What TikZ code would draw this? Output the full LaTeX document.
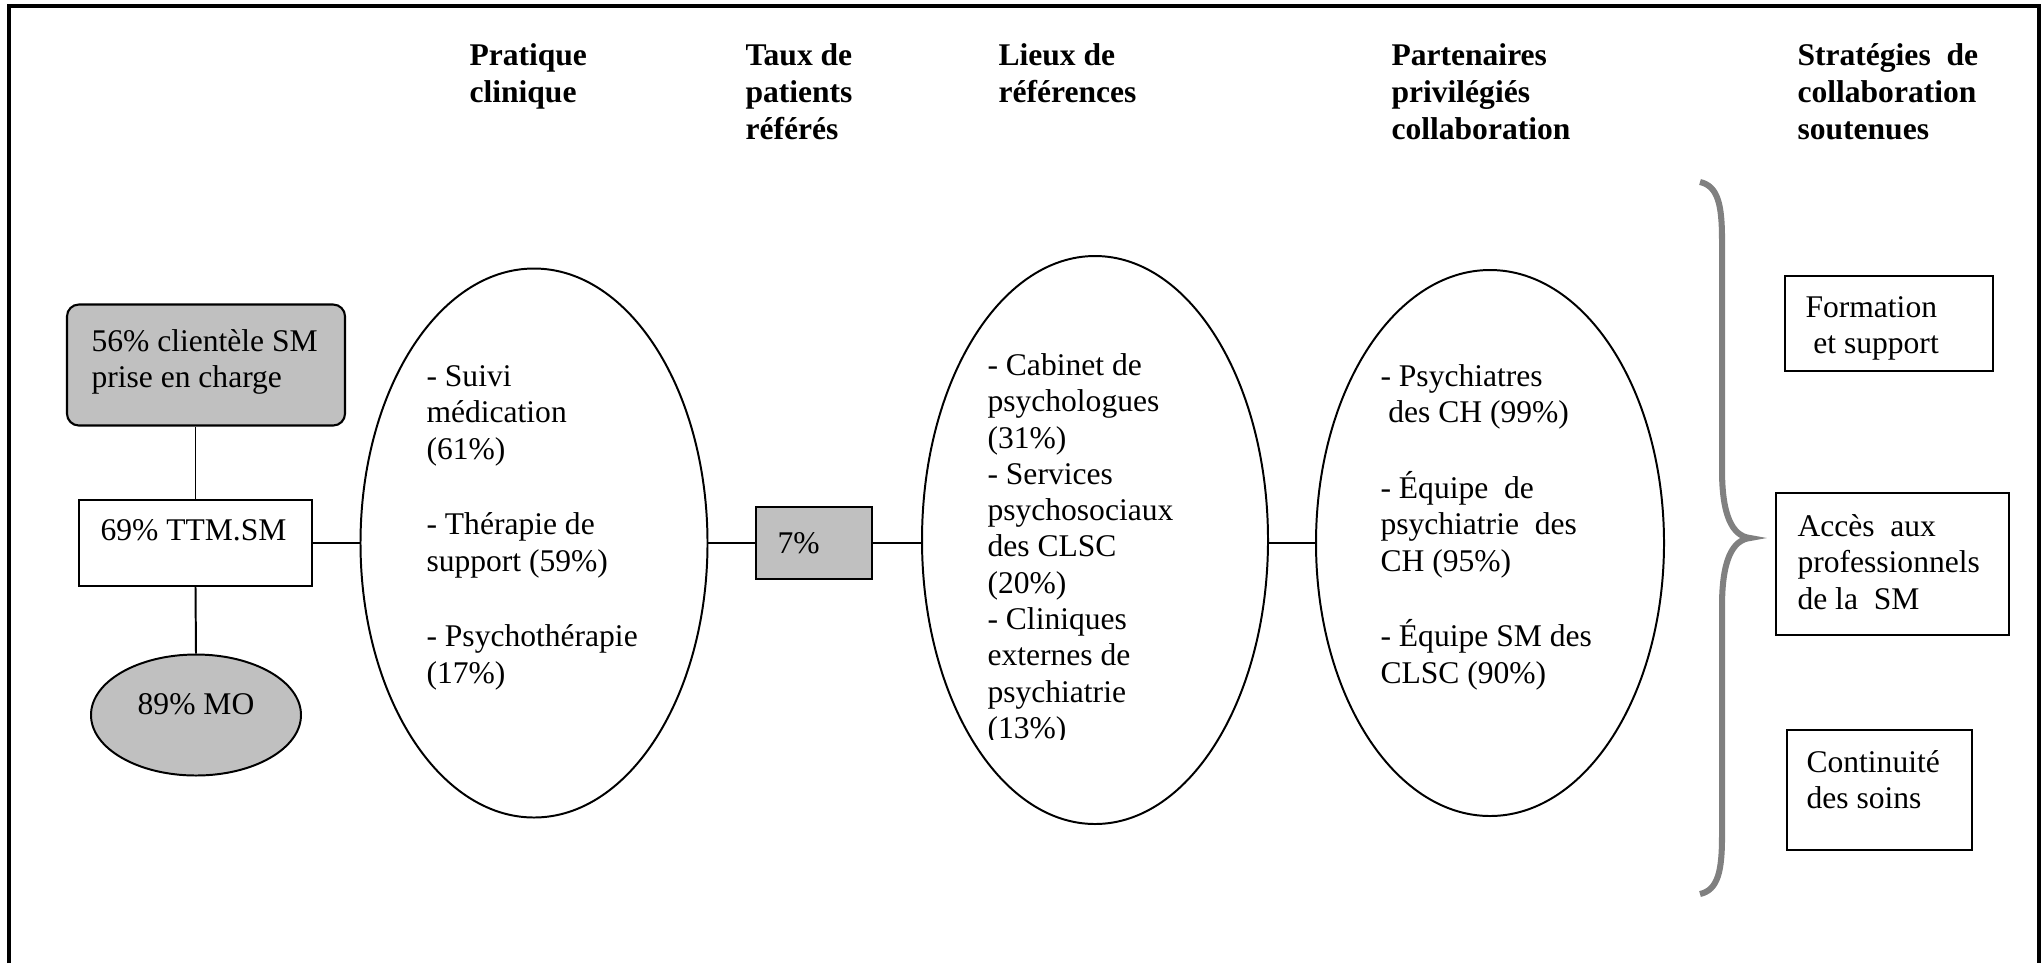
\documentclass[tikz,border=0pt]{standalone}
\usepackage{fontspec}
\setmainfont{Liberation Serif}
\usetikzlibrary{shapes.geometric,positioning}
\definecolor{grisfond}{HTML}{C0C0C0}
\definecolor{grisaccolade}{HTML}{808080}
\newcommand\pxu{0.3802pt}

\begin{document}
\begin{tikzpicture}[
x=0.3802pt,y=-0.3802pt,
txt/.style={
  inner sep=0pt,
  anchor=north west,
  align=left,
  font=\fontsize{12}{13.8}\selectfont
},
head/.style={
  txt,
  font=\fontsize{12}{14.1}\selectfont\bfseries
},
boite/.style={
  draw,
  line width=0.8pt,
  inner sep=0pt
},
grise/.style={
  boite,
  fill=grisfond
},
oval/.style={
  draw,
  ellipse,
  line width=0.75pt,
  inner sep=0pt
},
lien/.style={line width=0.75pt}
]
\useasboundingbox (0,0) rectangle (2043,963);
\draw[line width=1.5pt] (9,963) -- (9,6) -- (2039,6) -- (2039,963);

\node[head] at (469,43) 
  (hpratique) {Pratique\\clinique};
\node[head] at (745,43) 
  (htaux) {Taux de\\patients\\référés};
\node[head] at (998,43) 
  (hlieux) {Lieux de\\références};
\node[head] at (1391,43) 
  (hpart) {Partenaires\\privilégiés\\collaboration};
\node[head] at (1797,43) 
  (hstrat) {Stratégies\ \ de\\collaboration\\soutenues};

\node[grise,rounded corners=4.5pt,minimum width=278*\pxu,minimum height=121*\pxu] at (206,365) 
  (clientele) {};
\node[txt] at (91,329) 
  (clientxt) {56\% clientèle SM\\prise en charge};
\node[boite,minimum width=233*\pxu,minimum height=86*\pxu] at (195.5,543) 
  (ttm) {};
\node[txt,anchor=base west] at (100,540) 
  (ttmtxt) {69\% TTM.SM};
\node[oval,fill=grisfond,minimum width=210*\pxu,minimum height=121*\pxu] at (196,715) 
  (mo) {};
\node[txt,anchor=base] at (196,714) 
  (motxt) {89\% MO};

\node[oval,minimum width=347*\pxu,minimum height=549*\pxu] at (534,543) 
  (pratique) {};
\node[txt] at (426,365) 
  (pratiquetxt) {- Suivi\\médication\\(61\%)\\[15pt]- Thérapie de\\support (59\%)\\[15pt]- Psychothérapie\\(17\%)};

\node[grise,line width=1pt,minimum width=116*\pxu,minimum height=72*\pxu] at (814,543) 
  (taux) {};
\node[txt,anchor=base west] at (777,553) 
  (tauxtxt) {7\%};

\node[oval,minimum width=346*\pxu,minimum height=568*\pxu] at (1095,540) 
  (lieux) {};
\begin{scope}
\clip (930,250) rectangle (1260,739);
\node[txt] at (987,353) 
  (lieuxtxt) {- Cabinet de\\psychologues\\(31\%)\\- Services\\psychosociaux\\des CLSC\\(20\%)\\- Cliniques\\externes de\\psychiatrie\\(13\%)};
\end{scope}

\node[oval,minimum width=348*\pxu,minimum height=546*\pxu] at (1490,543) 
  (partenaires) {};
\node[txt] at (1380,364) 
  (partxt) {- Psychiatres\\\hspace*{0.25em}des CH (99\%)\\[15pt]- Équipe\ \ de\\psychiatrie\ \ des\\CH (95\%)\\[15pt]- Équipe SM des\\CLSC (90\%)};

\draw[lien] (ttm.north) -- (ttm.north |- clientele.south);
\draw[lien] (ttm.south) -- (mo.north);
\draw[lien] (ttm.east) -- (pratique.west);
\draw[lien] (pratique.east) -- (taux.west);
\draw[lien] (taux.east) -- (taux.east -| lieux.west);
\draw[lien] (taux.east -| lieux.east) -- (taux.east -| partenaires.west);

\draw[grisaccolade,line width=2.3pt] (1700,182) .. controls (1718,186) and (1722,205) .. (1722,240) 
  -- (1722,470) .. controls (1722,515) and (1732,536) .. (1750,538) 
  .. controls (1732,540) and (1722,561) .. (1722,606) 
  -- (1722,836) .. controls (1722,871) and (1718,890) .. (1700,894);

\node[boite,minimum width=208*\pxu,minimum height=95*\pxu] at (1889,323.5) 
  (formation) {};
\node[txt] at (1805,296) 
  (formtxt) {Formation\\\hspace*{0.25em}et support};
\node[boite,minimum width=233*\pxu,minimum height=142*\pxu] at (1892.5,564) 
  (acces) {};
\node[txt] at (1797,514) 
  (accestxt) {Accès\ \ aux\\professionnels\\de la\ \ SM};
\node[boite,minimum width=185*\pxu,minimum height=120*\pxu] at (1879.5,790) 
  (continuite) {};
\node[txt] at (1806,750) 
  (contxt) {Continuité\\des soins};

\end{tikzpicture}
\end{document}
